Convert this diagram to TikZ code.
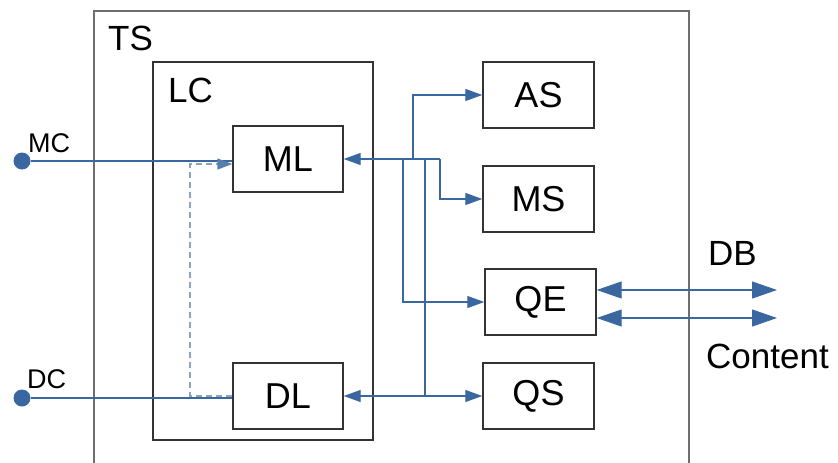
\documentclass[tikz,border=0pt]{standalone}
\usepackage{fontspec}
\setmainfont{Liberation Sans}
\usetikzlibrary{arrows.meta}
\definecolor{lblue}{HTML}{3A67A0}
\definecolor{dblue}{HTML}{8CA3C0}
\definecolor{boxgray}{HTML}{333333}
\definecolor{tsgray}{HTML}{6E6E6E}
\tikzset{
  blk/.style={draw=boxgray, line width=1.4pt, minimum width=110pt, minimum height=66pt, inner sep=0pt, font=\fontsize{36}{40}\selectfont},
  conn/.style={draw=lblue, line width=1.2pt},
  sarr/.style={conn, -{Triangle[length=17pt,width=12pt]}},
  barr/.style={conn, {Triangle[length=25pt,width=17pt]}-{Triangle[length=25pt,width=17pt]}},
  dsh/.style={draw=dblue, line width=1.4pt, dash pattern=on 6pt off 4pt, -{Triangle[length=15pt,width=11pt,fill=lblue!85!white,color=lblue!85!white]}},
  big/.style={inner sep=0pt, font=\fontsize{35}{40}\selectfont},
  small/.style={inner sep=0pt, font=\fontsize{27}{30}\selectfont},
  dot/.style={circle, fill=lblue, minimum size=17pt, inner sep=0pt}
}
\begin{document}
\begin{tikzpicture}[x=1pt,y=-1pt]
\useasboundingbox (0,0) rectangle (838,463);
% containers
\draw[tsgray, line width=1.6pt] (94,463) -- (94,11) -- (689,11) -- (689,463);
\draw[boxgray, line width=1.4pt] (153,62) rectangle (373,440);
\node[big, anchor=base west] (ts) at (108,50) {TS};
\node[big, anchor=base west] (lc) at (168,102) {LC};
% boxes
\node[blk] (ML) at (288,159) {ML};
\node[blk] (DL) at (288,396) {DL};
\node[blk, minimum width=111pt] (AS) at (538.5,95) {AS};
\node[blk, minimum width=111pt] (MS) at (538.5,199) {MS};
\node[blk, minimum width=111pt] (QE) at (540.5,302) {QE};
\node[blk, minimum width=111pt] (QS) at (538.5,396) {QS};
% inputs
\node[dot] (mc) at (22,161) {};
\node[dot] (dc) at (22,398) {};
\node[small, anchor=base west] (mcl) at (28,152) {MC};
\node[small, anchor=base west] (dcl) at (27,388) {DC};
\draw[conn] (mc) -- (mc -| ML.west);
\draw[conn] (dc) -- (dc -| DL.west);
\coordinate (dk) at (190,164);
\draw[dsh] (DL.west) -| (dk) -- (dk -| ML.west);
% hub
\coordinate (h1) at (403,159);
\coordinate (h2) at (413,159);
\coordinate (h3) at (425,159);
\coordinate (h4) at (440,159);
\coordinate (h5) at (425,396);
\draw[sarr] (h4) -- (ML.east);
\draw[sarr] (h2) |- (AS.west);
\draw[sarr] (h4) |- (MS.west);
\draw[sarr] (h1) |- (QE.west);
\draw[sarr] (h3) |- (QS.west);
\draw[sarr] (h5) -- (DL.east);
% DB / Content
\coordinate (db1) at (777,290);
\coordinate (db2) at (777,318);
\draw[barr] (QE.east |- db1) -- (db1);
\draw[barr] (QE.east |- db2) -- (db2);
\node[big, anchor=base west] (db) at (708,265) {DB};
\node[big, anchor=base west] (ct) at (706,368) {Content};
\end{tikzpicture}
\end{document}
